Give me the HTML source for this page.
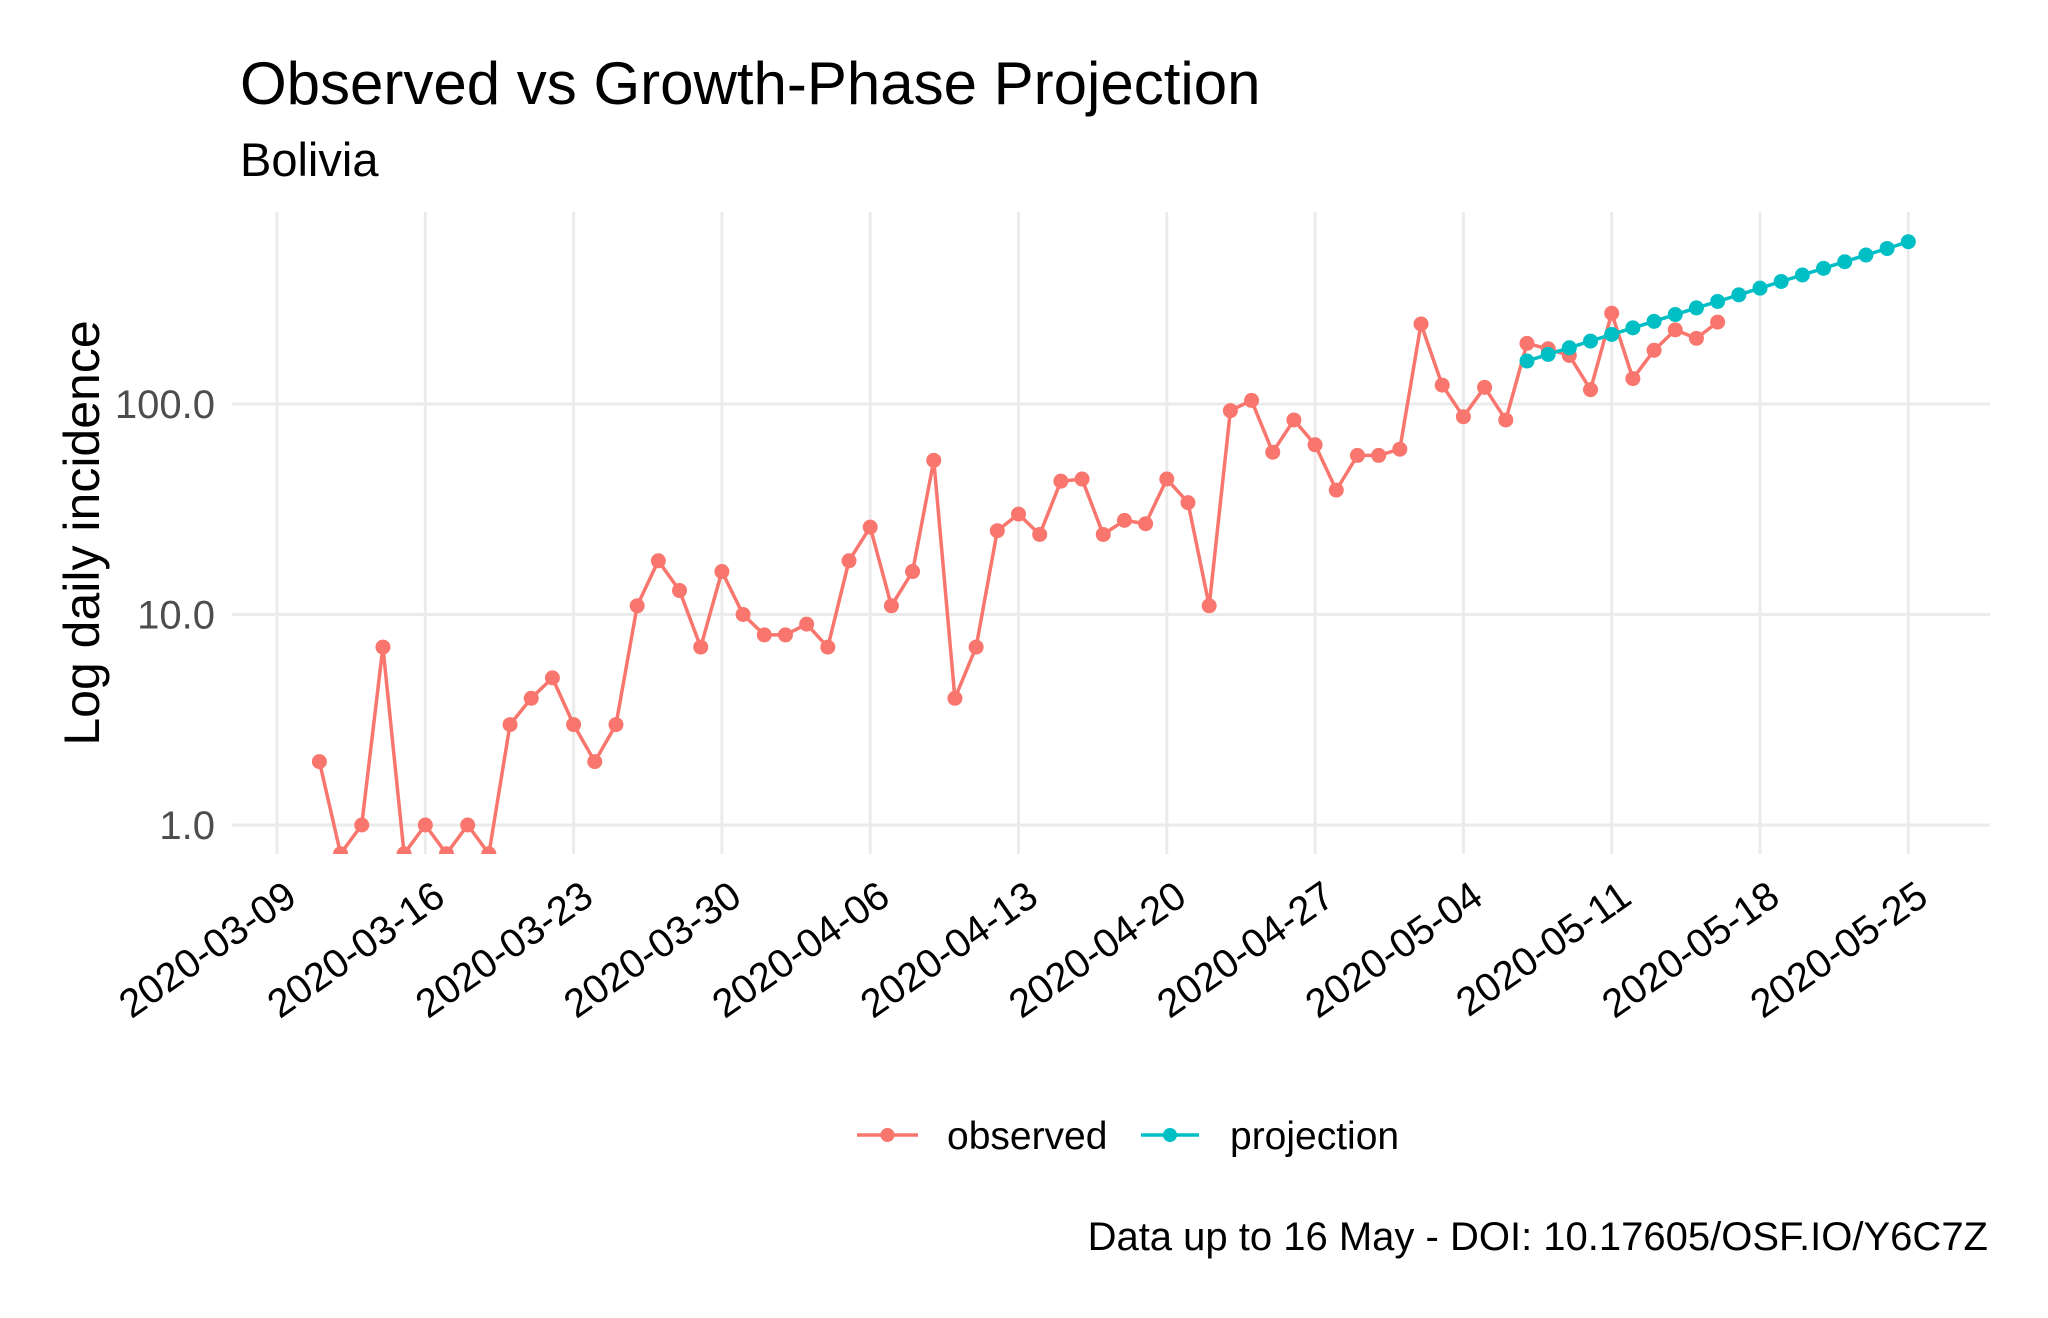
<!DOCTYPE html>
<html><head><meta charset="utf-8"><style>
html,body{margin:0;padding:0;background:#fff;}
svg{display:block;font-family:"Liberation Sans",Arial,sans-serif;}
</style></head><body>
<svg id="chart" width="2048" height="1318" viewBox="0 0 2048 1318" xmlns="http://www.w3.org/2000/svg">
<rect width="2048" height="1318" fill="#fff"/>
<text x="240" y="104" font-size="60" fill="#000">Observed vs Growth-Phase Projection</text>
<text x="240" y="176" font-size="47" fill="#000">Bolivia</text>
<text transform="translate(99,533) rotate(-90)" text-anchor="middle" font-size="50" fill="#000">Log daily incidence</text>
<defs><clipPath id="panelClip"><rect x="232" y="212" width="1758" height="642"/></clipPath></defs>
<g id="grid"></g>
<g id="yticks"></g>
<g id="xticks"></g>
<g id="series" clip-path="url(#panelClip)"></g>
<g>
<g>
<line x1="857" y1="1135" x2="918" y2="1135" stroke="#F8766D" stroke-width="3.5"/>
<circle cx="887.5" cy="1135" r="7" fill="#F8766D"/>
<text x="947" y="1149" font-size="39" fill="#000">observed</text>
</g>
<g>
<line x1="1141" y1="1135" x2="1199" y2="1135" stroke="#00BFC4" stroke-width="3.5"/>
<circle cx="1170" cy="1135" r="7" fill="#00BFC4"/>
<text x="1230" y="1149" font-size="39" fill="#000">projection</text>
</g>
</g>
<text x="1988" y="1250" text-anchor="end" font-size="40" fill="#000">Data up to 16 May - DOI: 10.17605/OSF.IO/Y6C7Z</text>
</svg>
<script>
const xTickLabels = ["2020-03-09","2020-03-16","2020-03-23","2020-03-30","2020-04-06","2020-04-13","2020-04-20","2020-04-27","2020-05-04","2020-05-11","2020-05-18","2020-05-25"];
const yTickValues = [1, 10, 100];
const yTickLabels = ["1.0","10.0","100.0"];
const observedStartDay = 2; // days after 2020-03-09
const observedValues = [2,0.73,1,7,0.73,1,0.73,1,0.73,3,4,5,3,2,3,11,18,13,7,16,10,8,8,9,7,18,26,11,16,54,4,7,25,30,24,43,44,24,28,27,44,34,11,93,104,59,84,64,39,57,57,61,240,123,87,120,84,194,183,170,117,270,132,180,225,205,245];
const projectionStartDay = 59;
const projectionValues = [160,172,185,199,214,230,247,266,286,307,330,355,382,410,441,474,510,548,590];

const NS = "http://www.w3.org/2000/svg";
const x0 = 277, dayW = 148.3/7;
function xScale(day){ return x0 + day*dayW; }
function yScale(v){ return 825 - Math.log10(v)*210.5; }
function mk(tag, attrs, parent){ const e=document.createElementNS(NS,tag); for(const k in attrs) e.setAttribute(k,attrs[k]); parent.appendChild(e); return e; }

const grid=document.getElementById('grid');
const yt=document.getElementById('yticks');
const xt=document.getElementById('xticks');
yTickValues.forEach((v,i)=>{
  const y=yScale(v);
  const l=mk('line',{x1:232,x2:1990,y1:y,y2:y,stroke:'#EBEBEB','stroke-width':3},grid);
  
  
  const t=mk('text',{x:215,y:y+14,'text-anchor':'end','font-size':40,fill:'#4D4D4D'},yt);
  t.textContent=yTickLabels[i];
  
  
});
xTickLabels.forEach((lab,i)=>{
  const x=xScale(i*7);
  const l=mk('line',{x1:x,x2:x,y1:212,y2:854,stroke:'#EBEBEB','stroke-width':3},grid);
  
  
  const t=mk('text',{transform:`translate(${x+22},${902}) rotate(-35)`,'text-anchor':'end','font-size':40,fill:'#000'},xt);
  t.textContent=lab;
  
  
});

const series=document.getElementById('series');
function drawSeries(vals,start,color,name){
  const g=mk('g',{},series);
  
  
  const pts=vals.map((v,i)=>xScale(start+i).toFixed(1)+','+yScale(v).toFixed(1)).join(' ');
  const pl=mk('polyline',{points:pts,fill:'none',stroke:color,'stroke-width':3.5,'stroke-linejoin':'round'},g);
  
  
  vals.forEach((v,i)=>{
    const c=mk('circle',{cx:xScale(start+i),cy:yScale(v),r:7.5,fill:color},g);
    
    
  });
}
drawSeries(observedValues,observedStartDay,'#F8766D','observed');
drawSeries(projectionValues,projectionStartDay,'#00BFC4','projection');
</script>
</body></html>
